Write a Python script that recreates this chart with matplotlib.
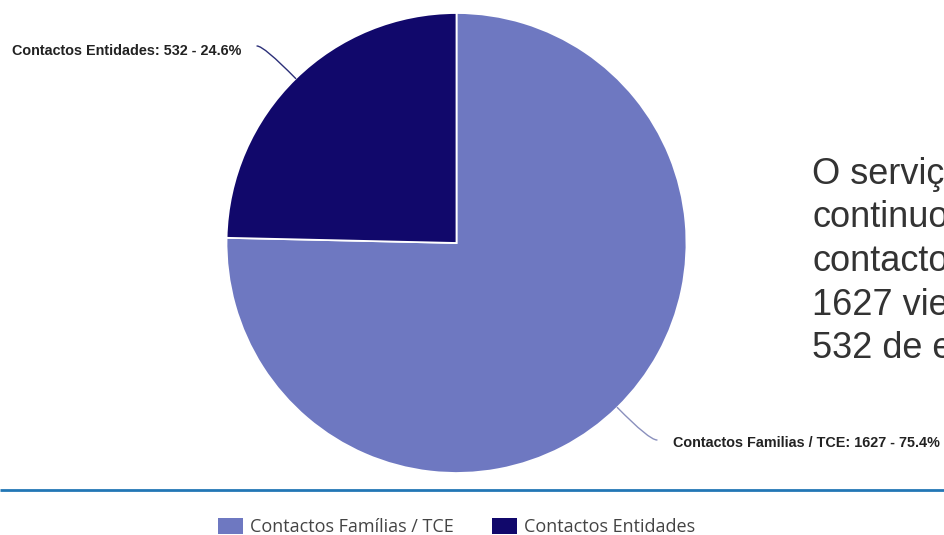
import numpy as np
import matplotlib
matplotlib.use("Agg")
import matplotlib.pyplot as plt
from matplotlib.patches import Rectangle

# ---- data ----
categories = ["Contactos Famílias / TCE", "Contactos Entidades"]
label_names = ["Contactos Familias / TCE", "Contactos Entidades"]
values = [1627, 532]
colors = ["#6e78c1", "#11086b"]
side_text = ["O serviço", "continuou", "contactos", "1627 vieram", "532 de entidades"]

W, H = 944, 535
fig = plt.figure(figsize=(W / 100, H / 100), dpi=100)
ax = fig.add_axes([0, 0, 1, 1])
ax.set_xlim(0, W)
ax.set_ylim(0, H)
ax.set_aspect("equal")
ax.axis("off")


def Y(ypx):
    return H - ypx


cx, cy, R = 456.5, Y(243), 230
wedges, _ = ax.pie(values, colors=colors, startangle=90, counterclock=False,
                   center=(cx, cy), radius=R,
                   wedgeprops=dict(edgecolor="white", linewidth=1.3))
ax.set_xlim(0, W)
ax.set_ylim(0, H)

total = sum(values)
# label layout: (text x, text y, ha, connector start x, connector start y, line colour)
layout = [
    (673, 443, "left", 657, 440, "#8a90bd"),
    (241, 51, "right", 257, 46, "#2b2f78"),
]
for w, name, v, (tx, ty, ha, sx, sy, lc) in zip(wedges, label_names, values, layout):
    ang = np.deg2rad((w.theta1 + w.theta2) / 2)
    ex, ey = cx + R * np.cos(ang), cy + R * np.sin(ang)
    ax.text(tx, Y(ty), f"{name}: {v} - {100 * v / total:.1f}%", ha=ha, va="center",
            fontsize=10.35, fontweight="bold", family="Liberation Sans", color="#222222")
    ax.annotate("", xy=(ex, ey), xytext=(sx, Y(sy)),
                arrowprops=dict(arrowstyle="-", color=lc, lw=1.0,
                                shrinkA=0, shrinkB=0,
                                connectionstyle=f"angle3,angleA=0,angleB={np.rad2deg(ang):.1f}"))

# separator line
ax.plot([0, W], [Y(490), Y(490)], color="#2277b5", lw=2.0, solid_capstyle="butt")

# legend
leg_sq_x = [218, 492]
for x0, c, name in zip(leg_sq_x, colors, categories):
    ax.add_patch(Rectangle((x0, Y(534)), 25, 16, facecolor=c, edgecolor="none"))
    ax.text(x0 + 32, Y(532), name, ha="left", va="baseline", fontsize=13,
            family="Open Sans", color="#444444")

# side text
baselines = [184, 227, 271, 315, 358]
for s, b in zip(side_text, baselines):
    ax.text(812, Y(b), s, ha="left", va="baseline", fontsize=26,
            family="Liberation Sans", color="#333333")

fig.savefig("out.png", dpi=100)
